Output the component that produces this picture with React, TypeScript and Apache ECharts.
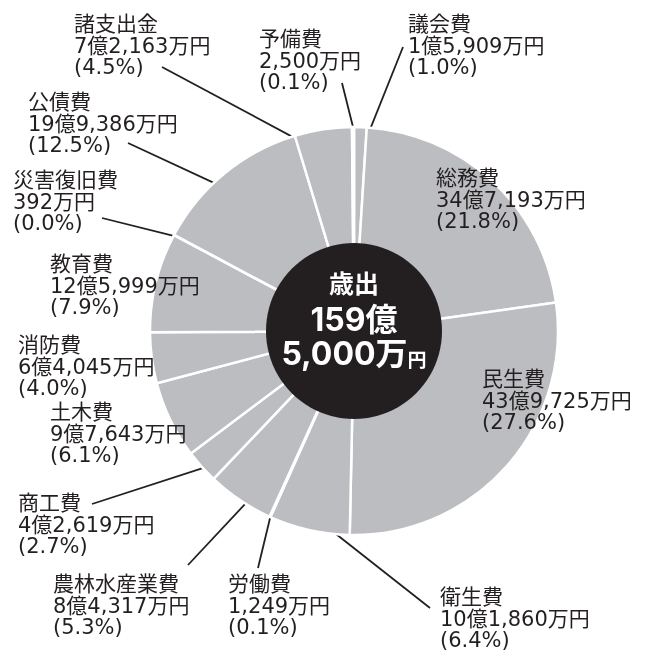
import React, { useEffect, useRef } from "react";
import * as echarts from "echarts";

// ---- data (values in 万円) ----
const categories = [
  "議会費", "総務費", "民生費", "衛生費", "労働費", "農林水産業費", "商工費",
  "土木費", "消防費", "教育費", "災害復旧費", "公債費", "諸支出金", "予備費",
];
const amounts = [
  15909, 347193, 439725, 101860, 1249, 84317, 42619,
  97643, 64045, 125999, 392, 199386, 72163, 2500,
];
const percents = [
  "1.0", "21.8", "27.6", "6.4", "0.1", "5.3", "2.7",
  "6.1", "4.0", "7.9", "0.0", "12.5", "4.5", "0.1",
];
const centerTitle = "歳出";

// ---- layout (positions / styles) ----
const CX = 354;
const CY = 331;
const R = 204;
const R_IN = 88;
const FONT = "'DejaVu Sans', 'Noto Sans CJK JP', sans-serif";
const FONT_C = "Inter, 'Noto Sans CJK JP', sans-serif";
const FS = 21;
const LH = 21.5;
const INK = "#231f20";
const GREY = "#bcbdc0";

// label block: left x, centre y of the first line
const labelPos: [number, number][] = [
  [408, 24], [436, 178], [482, 379], [440, 597], [228, 584], [53, 584], [18, 503],
  [50, 412], [18, 345], [50, 264], [13, 180], [28, 102], [74, 24], [259, 39],
];
// leader: label-side point x, y ; angle fraction inside slice ; radius ratio
const leaders: ([number, number, number, number] | null)[] = [
  [403, 47, 0.7, 0.89],
  null,
  null,
  [430, 608, 0.31, 0.965],
  [258, 568, 0.5, 0.99],
  [188, 565, 0.38, 0.96],
  [92, 504, 0.27, 0.94],
  null,
  null,
  null,
  [102, 218, 0.5, 0.98],
  [128, 143, 0.5, 0.85],
  [162, 67, 0.4, 0.89],
  [342, 83, 0.5, 1.0],
];

const total = amounts.reduce((a, b) => a + b, 0);
const fmtMan = (v: number) => {
  const oku = Math.floor(v / 10000);
  const man = v % 10000;
  return (oku ? oku + "億" : "") + man.toLocaleString("en-US") + "万";
};

const startAngles: number[] = [];
{
  let acc = 0;
  for (const v of amounts) {
    startAngles.push((acc / total) * 360);
    acc += v;
  }
}

function leaderEnd(i: number, f: number, k: number): number[] {
  const span = (amounts[i] / total) * 360;
  const th = ((startAngles[i] + f * span) * Math.PI) / 180;
  const r = R * k;
  return [CX + r * Math.sin(th), CY - r * Math.cos(th)];
}

export default function App() {
  const ref = useRef<HTMLDivElement>(null);
  useEffect(() => {
    if (!ref.current) return;
    const chart = echarts.init(ref.current, undefined, { renderer: "svg" });
    const data = categories.map((name, i) => ({
      name,
      value: amounts[i],
      labelLine: { show: leaders[i] !== null },
    }));
    const oku = Math.floor(total / 10000);
    const man = total % 10000;
    chart.setOption({
      animation: false,
      series: [
        {
          type: "pie",
          center: [CX, CY],
          radius: [0, R],
          startAngle: 90,
          clockwise: true,
          avoidLabelOverlap: false,
          silent: true,
          itemStyle: { color: GREY, borderColor: "#ffffff", borderWidth: 2.5 },
          label: {
            show: true,
            position: "outside",
            color: INK,
            fontSize: FS,
            lineHeight: LH,
            fontFamily: FONT,
            align: "left",
            formatter: (p: any) =>
              `${categories[p.dataIndex]}\n${fmtMan(amounts[p.dataIndex])}円\n(${percents[p.dataIndex]}%)`,
          },
          labelLine: {
            show: true,
            length: 10,
            length2: 10,
            lineStyle: { color: INK, width: 1.8 },
          },
          labelLayout: (params: any) => {
            const i = params.dataIndex;
            const [x, yc] = labelPos[i];
            const res: any = { x, y: yc - LH / 2, align: "left", verticalAlign: "top" };
            const L = leaders[i];
            if (L) {
              res.labelLinePoints = [[L[0], L[1]], leaderEnd(i, L[2], L[3])];
            }
            return res;
          },
          data,
        },
        {
          type: "pie",
          z: 3,
          center: [CX, CY],
          radius: [0, R_IN],
          silent: true,
          itemStyle: { color: INK, borderWidth: 0 },
          labelLine: { show: false },
          label: {
            show: true,
            position: "center",
            fontFamily: FONT_C,
            formatter: () =>
              `{a|${centerTitle}}\n{b|${oku}億}\n{b|${man.toLocaleString("en-US")}万}{c|円}`,
            rich: {
              a: { fontSize: 25, fontWeight: "bold", color: "#ffffff", lineHeight: 36, fontFamily: FONT_C },
              b: { fontSize: 32, fontWeight: "bold", color: "#ffffff", lineHeight: 34, fontFamily: FONT_C },
              c: { fontSize: 19, fontWeight: "bold", color: "#ffffff", lineHeight: 22, verticalAlign: "bottom", fontFamily: FONT_C },
            },
          },
          labelLayout: { dy: -13 },
          data: [{ name: centerTitle, value: total }],
        },
      ],
    });
    return () => chart.dispose();
  }, []);
  return (
    <div
      ref={ref}
      style={{ position: "fixed", left: 0, top: 0, width: 655, height: 651 }}
    />
  );
}
